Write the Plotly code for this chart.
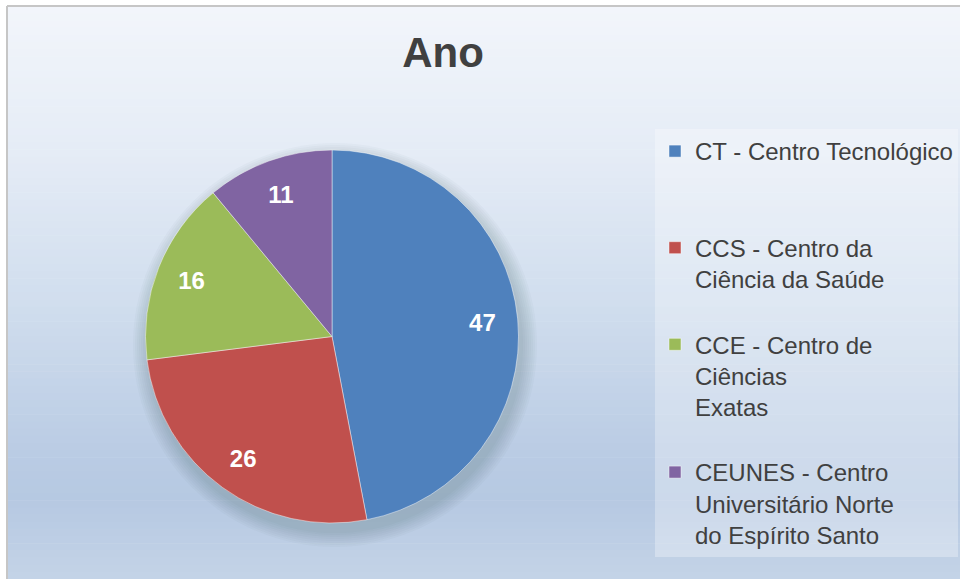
import plotly.graph_objects as go

# dados do gráfico
centros = [
    "CT - Centro Tecnológico",
    "CCS - Centro da<br>Ciência da Saúde",
    "CCE - Centro de<br>Ciências<br>Exatas",
    "CEUNES - Centro<br>Universitário Norte<br>do Espírito Santo",
]
valores = [47, 26, 16, 11]
cores = ["#4F81BD", "#C0504D", "#9BBB59", "#8064A2"]
titulo = "Ano"

# linhas em branco no fim de cada entrada para espaçar a legenda como no original
espaco = ["<br> <br> ", "<br> ", "<br> ", ""]
rotulos = [c + e for c, e in zip(centros, espaco)]

dominio = dict(x=[145 / 960, 519 / 960], y=[(579 - 523) / 579, (579 - 150) / 579])
fonte = "Liberation Sans, Arial"

fig = go.Figure()

# fatias
fig.add_trace(go.Pie(
    labels=rotulos,
    values=valores,
    sort=False,
    direction="clockwise",
    rotation=0,
    marker=dict(colors=cores, line=dict(color="rgba(255,255,255,0.45)", width=1)),
    textinfo="none",
    domain=dominio,
    hoverinfo="label+value",
))

# rótulos de valor (rosca transparente por cima, para afastar o texto do centro)
fig.add_trace(go.Pie(
    labels=rotulos,
    values=valores,
    sort=False,
    direction="clockwise",
    rotation=0,
    hole=0.62,
    marker=dict(colors=["rgba(0,0,0,0)"] * len(valores), line=dict(width=0)),
    textinfo="value",
    textposition="inside",
    insidetextorientation="horizontal",
    textfont=dict(family=fonte, size=24, color="white", weight="bold"),
    domain=dominio,
    showlegend=False,
    hoverinfo="skip",
))

# fundo em degradê (estilo Excel)
paradas = [
    (0, (243, 246, 251)),
    (150, (229, 236, 246)),
    (300, (209, 222, 238)),
    (450, (186, 204, 228)),
    (500, (182, 201, 226)),
    (579, (196, 211, 231)),
]
shapes = []
n = 80
for i in range(n):
    y0 = 6 + (579 - 6) * i / n
    y1 = 6 + (579 - 6) * (i + 1) / n
    ym = (y0 + y1) / 2
    for (a, ca), (b, cb) in zip(paradas[:-1], paradas[1:]):
        if a <= ym <= b:
            t = (ym - a) / (b - a)
            cor = tuple(round(ca[k] + (cb[k] - ca[k]) * t) for k in range(3))
            break
    shapes.append(dict(
        type="rect", xref="paper", yref="paper", layer="below",
        x0=7 / 960, x1=1.01, y0=1 - y1 / 579 - 0.001, y1=1 - y0 / 579,
        fillcolor="rgb(%d,%d,%d)" % cor, line=dict(width=0),
    ))

# sombra suave da pizza
cx, cy = 335, 345
for r in range(202, 186, -2):
    shapes.append(dict(
        type="circle", xref="paper", yref="paper", layer="below",
        x0=(cx - r) / 960, x1=(cx + r) / 960,
        y0=(579 - cy - r) / 579, y1=(579 - cy + r) / 579,
        fillcolor="rgba(60,80,110,0.03)", line=dict(width=0),
    ))

# moldura do gráfico
shapes.append(dict(type="line", xref="paper", yref="paper",
                   x0=7 / 960, x1=7 / 960, y0=-0.01, y1=1 - 6 / 579,
                   line=dict(color="#c6c6c6", width=2)))
shapes.append(dict(type="line", xref="paper", yref="paper",
                   x0=7 / 960, x1=1.01, y0=1 - 6 / 579, y1=1 - 6 / 579,
                   line=dict(color="#c6c6c6", width=2)))

fig.update_layout(
    width=960,
    height=579,
    margin=dict(l=0, r=0, t=0, b=0),
    paper_bgcolor="white",
    plot_bgcolor="rgba(0,0,0,0)",
    shapes=shapes,
    title=dict(
        text="<b>" + titulo + "</b>",
        x=443 / 960, xanchor="center",
        y=1 - 52 / 579, yanchor="middle",
        font=dict(family=fonte, size=42, color="#404040"),
    ),
    showlegend=True,
    legend=dict(
        x=655 / 960, xanchor="left",
        y=1 - 129 / 579, yanchor="top",
        bgcolor="rgba(255,255,255,0.3)",
        borderwidth=0,
        valign="top",
        traceorder="normal",
        font=dict(family=fonte, size=24, color="#404040"),
    ),
)

fig.write_html("out.html", config={"displayModeBar": False},
               post_script="document.body.style.margin = '0';")
